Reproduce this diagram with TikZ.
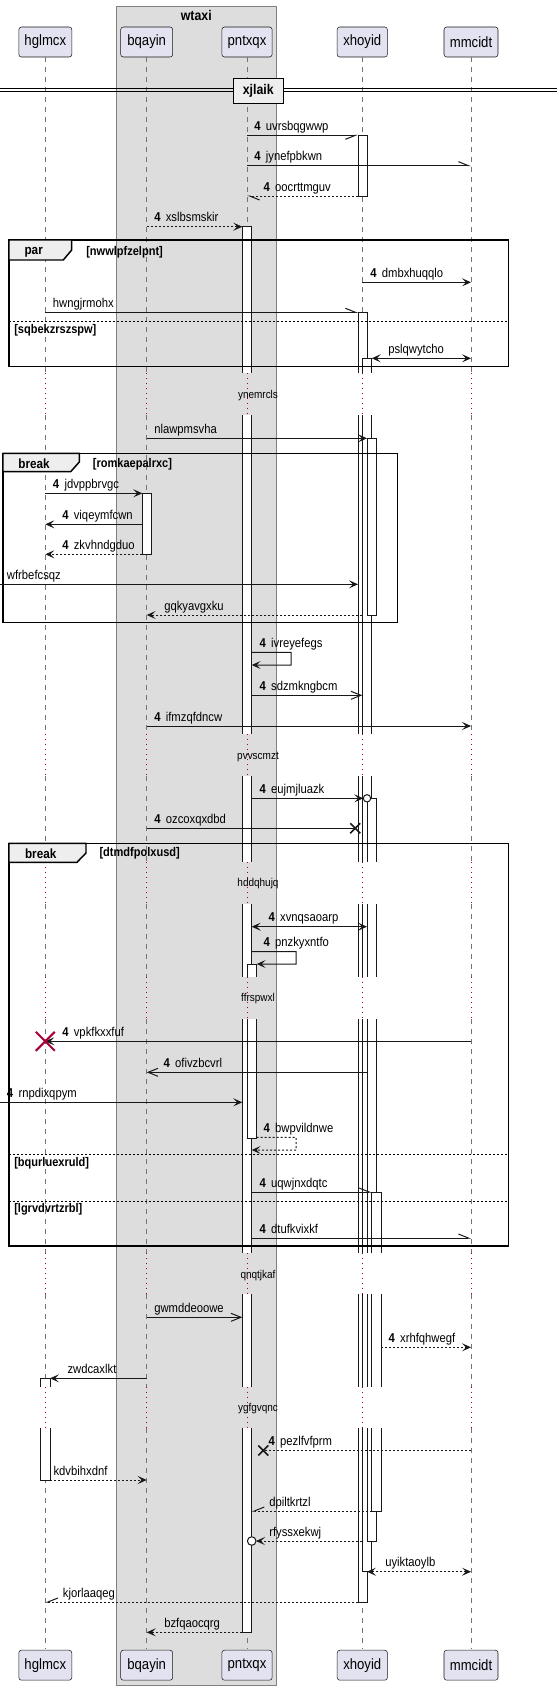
\documentclass[tikz,border=0pt]{standalone}
\usepackage{fontspec}
\setmainfont{Liberation Sans}[FakeStretch=0.88]
\usepackage{tikz}
\usetikzlibrary{positioning,arrows.meta}

\definecolor{partfill}{HTML}{E2E2F0}
\definecolor{partline}{HTML}{181818}
\definecolor{grpfill}{HTML}{DDDDDD}
\definecolor{tabfill}{HTML}{EEEEEE}
\definecolor{delayred}{HTML}{A80036}

\newcommand{\mnum}{\textbf{4}\hspace{4pt}}

\begin{document}
\begin{tikzpicture}[
  x=0.75pt, y=-0.75pt,
  part/.style={draw=partline, fill=partfill, rounded corners=2pt, minimum height=22.5pt,
    inner sep=0pt, font=\fontsize{11.2}{13}\selectfont},
  life/.style={draw=black!55, line width=0.5pt, dash pattern=on 3.75pt off 3.75pt},
  dly/.style={draw=delayred, line width=0.6pt, dash pattern=on 0.75pt off 3pt},
  act/.style={draw=partline, fill=white, line width=0.75pt},
  msg/.style={draw=partline, line width=0.75pt},
  ret/.style={msg, dash pattern=on 1.5pt off 1.5pt},
  fhead/.style={-{Stealth[length=6.75pt,width=6pt,inset=3pt]}},
  fboth/.style={{Stealth[length=6.75pt,width=6pt,inset=3pt]}-{Stealth[length=6.75pt,width=6pt,inset=3pt]}},
  barb/.style={-{Straight Barb[length=7.5pt,width=6pt]}},
  harpl/.style={-{Straight Barb[left,length=7.5pt,width=6pt]}},
  harpr/.style={-{Straight Barb[right,length=7.5pt,width=6pt]}},
  lbl/.style={anchor=base west, inner sep=0pt, font=\fontsize{9.6}{11}\selectfont},
  dtext/.style={inner sep=0pt, font=\fontsize{8.5}{10}\selectfont},
  frame/.style={draw=black, line width=1.1pt},
  tab/.style={draw=black, fill=tabfill, line width=1.1pt},
  tabtext/.style={inner sep=0pt, font=\bfseries\fontsize{10}{12}\selectfont},
  guard/.style={anchor=west, inner sep=0pt, font=\bfseries\fontsize{9.4}{11}\selectfont},
  sep/.style={draw=black, line width=0.6pt, dash pattern=on 1.5pt off 1.5pt},
  kill/.style={draw=partline, line width=1.2pt}
]
\useasboundingbox (0,0) rectangle (557,1691);

% Box wtaxi
\draw[draw=black!50, fill=grpfill, line width=0.5pt] (116.7,6) rectangle (276,1685.7);
\node[font=\bfseries\fontsize{10.5}{12}\selectfont, inner sep=0pt] (wtaxi) at (196.3,15) {wtaxi};

% Participants
\node[part, minimum width=39.75pt] (hglmcx) at (45.3,42) {hglmcx};
\node[part, minimum width=39pt] (bqayin) at (146.7,42) {bqayin};
\node[part, minimum width=37.7pt] (pntxqx) at (247,42) {pntxqx};
\node[part, minimum width=37.7pt] (xhoyid) at (362.3,42) {xhoyid};
\node[part, minimum width=40.5pt] (mmcidt) at (471,42) {mmcidt};

% Lifelines, dotted where delayed
\foreach \p in {hglmcx,bqayin,pntxqx,xhoyid,mmcidt}{
  \foreach \a/\b in {57/373.3,415/734.3,776/862.3,904/977,1019.3/1253.3,1294.3/1386.7,1428.3/1649.3}
    \draw[life] (\p |- 0,\a) -- (\p |- 0,\b);
  \foreach \a/\b in {373.3/415,734.3/776,862.3/904,977/1019.3,1253.3/1294.3,1386.7/1428.3}
    \draw[dly] (\p |- 0,\a) -- (\p |- 0,\b);
}

% Divider
\draw[line width=0.75pt] (0,88.3) -- (557,88.3) (0,92) -- (557,92);
\node[draw=black, fill=tabfill, line width=1.1pt, minimum width=37.5pt, minimum height=18.75pt,
  inner sep=0pt, font=\bfseries\fontsize{10.5}{12}\selectfont] (xjlaik) at (258.3,90.8) {xjlaik};

% Edges of activation bars
\coordinate (lft) at (0,0);
\coordinate (hgR) at (50,0);
\coordinate (bqL) at (142.3,0);
\coordinate (pnL) at (242.3,0);
\coordinate (pnR) at (251.7,0);
\coordinate (pnR1) at (256.7,0);
\coordinate (xhL) at (358,0);
\coordinate (xhR) at (367,0);
\coordinate (xhR1) at (371.7,0);
\coordinate (xhR3) at (381,0);

% Activations
\filldraw[act] (358,135.3) rectangle (367,196);
\filldraw[act] (142.3,493.3) rectangle (151.7,554.3);
\foreach \l/\r/\s/\e in {242.3/251.7/226.7/1632.3, 358/367/312.3/1602, 362.3/371.7/358.3/1571.7}{
  \filldraw[act] (\l,373.3) -- (\l,\s) -- (\r,\s) -- (\r,373.3);
  \foreach \a/\b in {415/734.3,776/862.3,904/977,1019.3/1253.3,1294.3/1386.7}{
    \fill[white] (\l,\a) rectangle (\r,\b);
    \draw[msg] (\l,\a) -- (\l,\b) (\r,\a) -- (\r,\b);
  }
  \filldraw[act] (\l,1428.3) -- (\l,\e) -- (\r,\e) -- (\r,1428.3);
}
\filldraw[act] (367,438.3) rectangle (376.7,615);
\filldraw[act] (367,862.3) -- (367,798.3) -- (376.7,798.3) -- (376.7,862.3);
\foreach \a/\b in {904/977,1019.3/1253.3,1294.3/1386.7}{
  \fill[white] (367,\a) rectangle (376.7,\b);
  \draw[msg] (367,\a) -- (367,\b) (376.7,\a) -- (376.7,\b);
}
\filldraw[act] (367,1428.3) -- (367,1541) -- (376.7,1541) -- (376.7,1428.3);
\filldraw[act] (371.7,1253.3) -- (371.7,1192) -- (381,1192) -- (381,1253.3);
\fill[white] (371.7,1294.3) rectangle (381,1386.7);
\draw[msg] (371.7,1294.3) -- (371.7,1386.7) (381,1294.3) -- (381,1386.7);
\filldraw[act] (371.7,1428.3) -- (371.7,1511) -- (381,1511) -- (381,1428.3);
\filldraw[act] (247,977) -- (247,964) -- (256.7,964) -- (256.7,977);
\filldraw[act] (247,1019.3) -- (247,1138.3) -- (256.7,1138.3) -- (256.7,1019.3);
\filldraw[act] (40.7,1386.7) -- (40.7,1378.3) -- (50,1378.3) -- (50,1386.7);
\filldraw[act] (40.7,1428.3) -- (40.7,1480) -- (50,1480) -- (50,1428.3);

% par
\draw[frame] (9,240) rectangle (508.3,366.7);
\draw[tab] (9,240) -- (71.7,240) -- (71.7,250) -- (63.3,260) -- (9,260) -- cycle;
\node[tabtext] (par) at (33.7,252.3) {par};
\node[guard] (nwwlpfzelpnt) at (86,252.3) {[nwwlpfzelpnt]};
\draw[sep] (9,321.7) -- (508.3,321.7);
\node[guard] (sqbekzrszspw) at (14,330) {[sqbekzrszspw]};

% break 1
\draw[frame] (3,453.3) rectangle (397.3,622.7);
\draw[tab] (3,453.3) -- (79.3,453.3) -- (79.3,462) -- (70.7,471.7) -- (3,471.7) -- cycle;
\node[tabtext] (brk1) at (34,463.3) {break};
\node[guard] (romkaepalrxc) at (92.7,464) {[romkaepalrxc]};

% break 2
\draw[frame] (9,843.3) rectangle (508.3,1246);
\draw[tab] (9,843.3) -- (86,843.3) -- (86,853) -- (77,862.3) -- (9,862.3) -- cycle;
\node[tabtext] (brk2) at (40.7,853.3) {break};
\node[guard] (dtmdfpolxusd) at (99.3,853.3) {[dtmdfpolxusd]};
\draw[sep] (9,1154.3) -- (508.3,1154.3);
\node[guard] (bqurluexruld) at (14,1163.3) {[bqurluexruld]};
\draw[sep] (9,1201) -- (508.3,1201);
\node[guard] (lgrvdvrtzrbl) at (14,1209.3) {[lgrvdvrtzrbl]};

% Messages
\draw[msg, harpr] (pntxqx |- 0,135.3) -- (xhL |- 0,135.3);
\node[lbl] (uvrsbqgwwp) at (254,130.3) {\mnum uvrsbqgwwp};
\draw[msg, harpl] (pntxqx |- 0,165.7) -- (mmcidt |- 0,165.7);
\node[lbl] (jynefpbkwn) at (254,160.7) {\mnum jynefpbkwn};
\draw[ret, harpl] (xhL |- 0,196) -- (pntxqx |- 0,196);
\node[lbl] (oocrttmguv) at (263.3,191) {\mnum oocrttmguv};
\draw[ret, fhead] (bqayin |- 0,226.7) -- (pnL |- 0,226.7);
\node[lbl] (xslbsmskir) at (154,221.7) {\mnum xslbsmskir};
\draw[msg, fhead] (xhoyid |- 0,282.3) -- (mmcidt |- 0,282.3);
\node[lbl] (dmbxhuqqlo) at (370,277.3) {\mnum dmbxhuqqlo};
\draw[msg, harpl] (hglmcx |- 0,312.3) -- (xhL |- 0,312.3);
\node[lbl] (hwngjrmohx) at (52.7,307.3) {hwngjrmohx};
\draw[msg, fboth] (xhR1 |- 0,358.3) -- (mmcidt |- 0,358.3);
\node[lbl] (pslqwytcho) at (388,353.3) {pslqwytcho};
\draw[msg, fhead] (bqayin |- 0,438.3) -- (xhR |- 0,438.3);
\node[lbl] (nlawpmsvha) at (154,433.3) {nlawpmsvha};
\draw[msg, fhead] (hglmcx |- 0,493.3) -- (bqL |- 0,493.3);
\node[lbl] (jdvppbrvgc) at (52.7,488.3) {\mnum jdvppbrvgc};
\draw[msg, fhead] (bqL |- 0,524.3) -- (hglmcx |- 0,524.3);
\node[lbl] (viqeymfcwn) at (62,519.3) {\mnum viqeymfcwn};
\draw[ret, fhead] (bqL |- 0,554.3) -- (hglmcx |- 0,554.3);
\node[lbl] (zkvhndgduo) at (62,549.3) {\mnum zkvhndgduo};
\draw[msg, fhead] (lft |- 0,584.3) -- (xhL |- 0,584.3);
\node[lbl] (wfrbefcsqz) at (6.7,579.3) {wfrbefcsqz};
\draw[ret, fhead] (xhoyid |- 0,615) -- (bqayin |- 0,615);
\node[lbl] (gqkyavgxku) at (164,610) {gqkyavgxku};
\draw[msg, fhead] (pnR |- 0,652.3) -- ++(39.3,0) -- ++(0,12.7) -- (pnR |- 0,665);
\node[lbl] (ivreyefegs) at (259.3,647.3) {\mnum ivreyefegs};
\draw[msg, barb] (pnR |- 0,695.3) -- (xhoyid |- 0,695.3);
\node[lbl] (sdzmkngbcm) at (259.3,690.3) {\mnum sdzmkngbcm};
\draw[msg, fhead] (bqayin |- 0,726) -- (mmcidt |- 0,726);
\node[lbl] (ifmzqfdncw) at (154,721) {\mnum ifmzqfdncw};
\draw[msg, fhead, shorten >=2.8pt] (pnR |- 0,798.3) -- (xhR |- 0,798.3);
\draw[msg, fill=white] (xhR |- 0,798.3) circle[radius=3.7];
\node[lbl] (eujmjluazk) at (259.3,793.3) {\mnum eujmjluazk};
\coordinate (ozx) at (355.3,828.3);
\draw[msg] (bqayin |- ozx) -- (ozx);
\draw[kill] (ozx) ++(-5,-5) -- ++(10,10) (ozx) ++(-5,5) -- ++(10,-10);
\node[lbl] (ozcoxqxdbd) at (154,823.3) {\mnum ozcoxqxdbd};
\draw[msg, fboth] (pnR |- 0,926.7) -- (xhR |- 0,926.7);
\node[lbl] (xvnqsaoarp) at (268.3,921.7) {\mnum xvnqsaoarp};
\draw[msg, fhead] (pnR |- 0,951.7) -- ++(44.3,0) -- ++(0,12.3) -- (pnR1 |- 0,964);
\node[lbl] (pnzkyxntfo) at (263.3,946.7) {\mnum pnzkyxntfo};
\coordinate (vpx) at (45.3,1041.3);
\draw[msg, fhead] (mmcidt |- vpx) -- (vpx);
\draw[delayred, line width=1.5pt] (vpx) ++(-9.5,-9.5) -- ++(19,19) (vpx) ++(-9.5,9.5) -- ++(19,-19);
\node[lbl] (vpkfkxxfuf) at (62,1036.3) {\mnum vpkfkxxfuf};
\draw[msg, barb] (xhR |- 0,1072.3) -- (bqayin |- 0,1072.3);
\node[lbl] (ofivzbcvrl) at (163.3,1067.3) {\mnum ofivzbcvrl};
\draw[msg, fhead] (lft |- 0,1102.3) -- (pnL |- 0,1102.3);
\node[lbl] (rnpdixqpym) at (6.7,1097.3) {\mnum rnpdixqpym};
\draw[ret, fhead] (pnR1 |- 0,1137.3) -- ++(39.3,0) -- ++(0,12.7) -- (pnR |- 0,1150);
\node[lbl] (bwpvildnwe) at (263.3,1132.3) {\mnum bwpvildnwe};
\draw[msg, harpl] (pnR |- 0,1192) -- (xhR1 |- 0,1192);
\node[lbl] (uqwjnxdqtc) at (259.3,1187) {\mnum uqwjnxdqtc};
\draw[msg, harpl] (pnR |- 0,1238) -- (mmcidt |- 0,1238);
\node[lbl] (dtufkvixkf) at (259.3,1233) {\mnum dtufkvixkf};
\draw[msg, barb] (bqayin |- 0,1317.3) -- (pnL |- 0,1317.3);
\node[lbl] (gwmddeoowe) at (154,1312.3) {gwmddeoowe};
\draw[ret, fhead] (xhR3 |- 0,1347.3) -- (mmcidt |- 0,1347.3);
\node[lbl] (xrhfqhwegf) at (388.3,1342.3) {\mnum xrhfqhwegf};
\draw[msg, fhead] (bqayin |- 0,1378.3) -- (hgR |- 0,1378.3);
\node[lbl] (zwdcaxlkt) at (67.3,1373.3) {zwdcaxlkt};
\coordinate (pzx) at (263.3,1450.5);
\draw[ret] (mmcidt |- pzx) -- (pzx);
\draw[kill] (pzx) ++(-5,-5) -- ++(10,10) (pzx) ++(-5,5) -- ++(10,-10);
\node[lbl] (pezlfvfprm) at (268.3,1445) {\mnum pezlfvfprm};
\draw[ret, fhead] (hgR |- 0,1480) -- (bqayin |- 0,1480);
\node[lbl] (kdvbihxdnf) at (53.3,1475) {kdvbihxdnf};
\draw[ret, harpr] (xhR1 |- 0,1511) -- (pnR |- 0,1511);
\node[lbl] (dpiltkrtzl) at (269,1506) {dpiltkrtzl};
\draw[ret, fhead, shorten >=3.2pt] (xhoyid |- 0,1541) -- (pnR |- 0,1541);
\draw[msg, fill=white] (pnR |- 0,1541) circle[radius=4.3];
\node[lbl] (rfyssxekwj) at (269,1536) {rfyssxekwj};
\draw[ret, fboth] (xhR |- 0,1571.7) -- (mmcidt |- 0,1571.7);
\node[lbl] (uyiktaoylb) at (385,1566.7) {uyiktaoylb};
\draw[ret, harpr] (xhL |- 0,1602) -- (hglmcx |- 0,1602);
\node[lbl] (kjorlaaqeg) at (62.7,1597) {kjorlaaqeg};
\draw[ret, fhead] (pnL |- 0,1632.3) -- (bqayin |- 0,1632.3);
\node[lbl] (bzfqaocqrg) at (164,1627.3) {bzfqaocqrg};

% Delays
\node[dtext] (ynemrcls) at (258,396) {ynemrcls};
\node[dtext] (pvvscmzt) at (258,756.7) {pvvscmzt};
\node[dtext] (hddqhujq) at (258,884) {hddqhujq};
\node[dtext] (ffrspwxl) at (258,999) {ffrspwxl};
\node[dtext] (qnqtjkaf) at (258,1275.7) {qnqtjkaf};
\node[dtext] (ygfgvqnc) at (258,1408.3) {ygfgvqnc};

% Participants at the foot
\node[part, minimum width=39.75pt] (hglmcxB) at (hglmcx |- 0,1665.2) {hglmcx};
\node[part, minimum width=39pt] (bqayinB) at (bqayin |- 0,1665.2) {bqayin};
\node[part, minimum width=37.7pt] (pntxqxB) at (pntxqx |- 0,1665.2) {pntxqx};
\node[part, minimum width=37.7pt] (xhoyidB) at (xhoyid |- 0,1665.2) {xhoyid};
\node[part, minimum width=40.5pt] (mmcidtB) at (mmcidt |- 0,1665.2) {mmcidt};

\end{tikzpicture}
\end{document}
